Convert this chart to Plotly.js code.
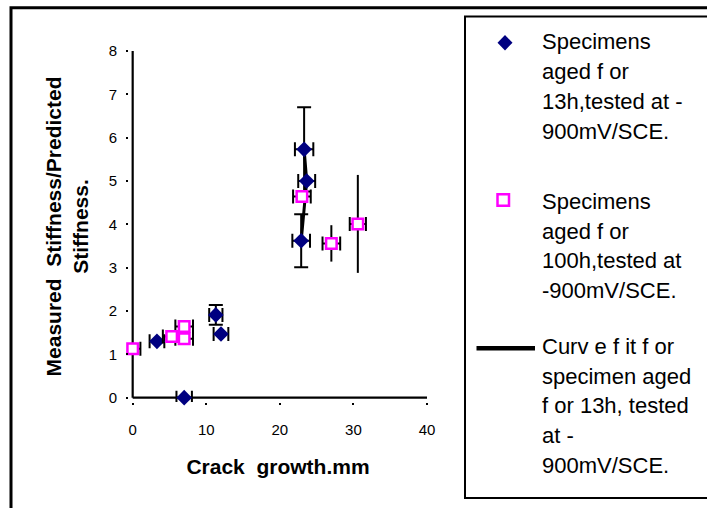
<!DOCTYPE html>
<html><head><meta charset="utf-8">
<script src="https://cdn.plot.ly/plotly-3.0.1.min.js"></script>
<style>html,body{margin:0;padding:0;background:#fff;overflow:hidden;}</style>
</head><body><div id="chart" style="width:707px;height:508px;"></div>
<script>
// ---- data ----
const aged13X   = [3.3, 7.0, 11.3, 12.0, 22.9, 23.3, 23.65];
const aged13Y   = [1.30, 0.00, 1.91, 1.47, 3.62, 5.73, 5.00];
const aged13Ex  = [1.0, 1.05, 0.9, 1.0, 1.2, 1.25, 1.15];
const aged13Ey  = [0, 0, 0.23, 0, 0.61, 0.97, 0];

const aged100X  = [0.0, 5.3, 7.0, 7.0, 23.0, 27.0, 30.6];
const aged100Y  = [1.13, 1.41, 1.64, 1.36, 4.64, 3.56, 4.01];
const aged100Ex = [1.05, 1.2, 1.2, 1.2, 1.2, 1.2, 1.1];
const aged100Ey = [0, 0, 0, 0, 0, 0.42, 1.13];

const fitX = [23.3, 23.65, 22.9];
const fitY = [5.73, 5.00, 3.62];

const xTicks = [0, 10, 20, 30, 40];
const yTicks = [0, 1, 2, 3, 4, 5, 6, 7, 8];

const legend1 = ["Specimens", "aged f or", "13h,tested at -", "900mV/SCE."];
const legend2 = ["Specimens", "aged f or", "100h,tested at", "-900mV/SCE."];
const legend3 = ["Curv e f it f or", "specimen aged", "f or 13h, tested", "at -", "900mV/SCE."];

// ---- layout geometry ----
const L = 129, T = 51, W = 298, H = 351;
const FW = 707, FH = 508;
const px2x = p => (p - L) / W;
const py2y = p => (T + H - p) / H;
const FONT = "Liberation Sans, Arial, Helvetica, sans-serif";

const traces = [
  { x: fitX, y: fitY, type: 'scatter', mode: 'lines', name: legend3.join(' '),
    line: { color: '#000000', width: 3 }, showlegend: false, cliponaxis: false, hoverinfo: 'skip' },
  { x: aged13X, y: aged13Y, type: 'scatter', mode: 'markers', name: legend1.join(' '),
    marker: { symbol: 'diamond', size: 12, color: '#000080', line: { width: 0 } },
    error_x: { type: 'data', array: aged13Ex, visible: true, color: '#000000', thickness: 2, width: 7 },
    error_y: { type: 'data', array: aged13Ey, visible: true, color: '#000000', thickness: 2, width: 7 },
    showlegend: false, cliponaxis: false },
  { x: aged100X, y: aged100Y, type: 'scatter', mode: 'markers', name: legend2.join(' '),
    marker: { symbol: 'square', size: 10.5, color: '#FFFFFF', line: { width: 2.5, color: '#FF00FF' } },
    error_x: { type: 'data', array: aged100Ex, visible: true, color: '#000000', thickness: 2, width: 7 },
    error_y: { type: 'data', array: aged100Ey, visible: true, color: '#000000', thickness: 2, width: 0 },
    showlegend: false, cliponaxis: false }
];

// legend decoration (drawn by hand to match the boxed legend)
const shapes = [
  // axis lines
  { type: 'line', xref: 'x', yref: 'y', x0: 0, x1: 0, y0: 0, y1: 8, line: { color: '#000', width: 2.2 }, layer: 'below' },
  { type: 'line', xref: 'x', yref: 'y', x0: 0, x1: 40, y0: 0, y1: 0, line: { color: '#000', width: 2.2 }, layer: 'below' },
  // outer frame
  { type: 'rect', xref: 'paper', yref: 'paper', x0: px2x(11), x1: px2x(FW + 30), y0: py2y(7.7), y1: py2y(FH + 30),
    line: { color: '#000', width: 3 } },
  // legend box
  { type: 'rect', xref: 'paper', yref: 'paper', x0: px2x(465), x1: px2x(FW + 30), y0: py2y(16.5), y1: py2y(498),
    line: { color: '#000', width: 2 } },
  // legend symbols
  { type: 'path', xref: 'paper', yref: 'paper',
    path: `M ${px2x(497.5)} ${py2y(42.7)} L ${px2x(505)} ${py2y(35)} L ${px2x(512.5)} ${py2y(42.7)} L ${px2x(505)} ${py2y(50.4)} Z`,
    fillcolor: '#000080', line: { width: 0 } },
  { type: 'rect', xref: 'paper', yref: 'paper', x0: px2x(497.5), x1: px2x(509), y0: py2y(194.3), y1: py2y(205.7),
    fillcolor: '#FFFFFF', line: { color: '#FF00FF', width: 2.5 } },
  { type: 'line', xref: 'paper', yref: 'paper', x0: px2x(476.5), x1: px2x(535), y0: py2y(348.3), y1: py2y(348.3),
    line: { color: '#000', width: 4.5 } }
];

const annotations = [];
function addLines(lines, y0, step) {
  lines.forEach((t, i) => annotations.push({
    text: t, xref: 'paper', yref: 'paper', x: px2x(540), y: py2y(y0 + i * step),
    xanchor: 'left', yanchor: 'middle', showarrow: false,
    font: { family: FONT, size: 22, color: '#000' }
  }));
}
addLines(legend1, 41.7, 30);
addLines(legend2, 201.7, 29.6);
addLines(legend3, 346.7, 29.6);

const layout = {
  width: FW, height: FH, autosize: false,
  margin: { l: L, r: FW - L - W, t: T, b: FH - T - H, pad: 0 },
  paper_bgcolor: '#FFFFFF', plot_bgcolor: '#FFFFFF',
  font: { family: FONT, color: '#000' },
  showlegend: false,
  xaxis: {
    range: [-0.5, 40], tickmode: 'array', tickvals: xTicks, ticktext: xTicks.map(String),
    showgrid: false, zeroline: false, showline: false,
    ticks: 'outside', ticklen: 2, tickwidth: 2, tickcolor: '#000', ticklabelstandoff: 12,
    tickfont: { family: FONT, size: 15, color: '#000' },
    title: { text: 'Crack\u00a0 growth.mm', font: { family: FONT, size: 21, weight: 700, color: '#000' }, standoff: 22 }
  },
  yaxis: {
    range: [-0.1, 8], tickmode: 'array', tickvals: yTicks, ticktext: yTicks.map(String),
    showgrid: false, zeroline: false, showline: false,
    ticks: 'outside', ticklen: 2, tickwidth: 2, tickcolor: '#000', ticklabelstandoff: 6,
    tickfont: { family: FONT, size: 15, color: '#000' },
    title: { text: 'Measured\u00a0 Stiffness/Predicted<br>Stiffness.', font: { family: FONT, size: 21, weight: 700, color: '#000' }, standoff: 14 }
  },
  shapes: shapes,
  annotations: annotations
};

Plotly.newPlot('chart', traces, layout, { staticPlot: true, displayModeBar: false });
</script>
</body></html>
